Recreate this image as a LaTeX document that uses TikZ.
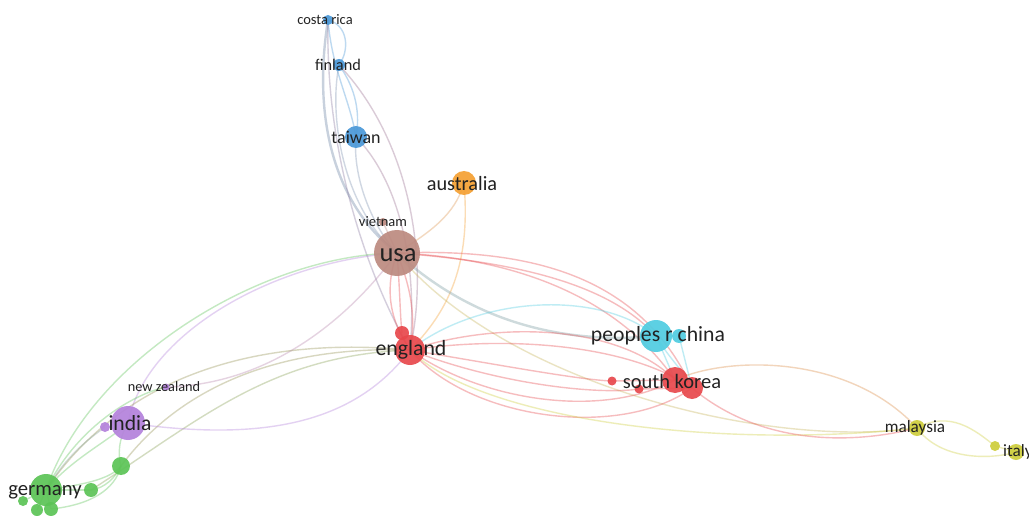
\documentclass[tikz,border=0pt]{standalone}
\usepackage{fontspec}
\setmainfont{Carlito}
\pgfdeclarelayer{bg}
\pgfsetlayers{bg,main}
\definecolor{cBlue}{RGB}{74,152,216}
\definecolor{cBrown}{RGB}{188,138,128}
\definecolor{cRed}{RGB}{232,72,76}
\definecolor{cCyan}{RGB}{80,205,225}
\definecolor{cOrange}{RGB}{245,160,50}
\definecolor{cPurple}{RGB}{180,130,220}
\definecolor{cGreen}{RGB}{92,196,86}
\definecolor{cYellow}{RGB}{206,206,60}
\definecolor{cLabel}{RGB}{34,34,34}
\tikzset{
  bub/.style 2 args={circle, inner sep=0pt, minimum size=#2, fill=#1, fill opacity=0.92, draw=none},
  lab/.style={font=\fontsize{#1}{#1}\selectfont, text=cLabel, inner sep=0pt},
  ed/.style={draw=#1, line width=1.4pt, draw opacity=0.36},
  edt/.style={draw=#1, line width=2.4pt, draw opacity=0.42}
}
\begin{document}
\begin{tikzpicture}[x=1pt,y=-1pt]
\useasboundingbox (0,0) rectangle (1029,516);
% nodes
\node[bub={cBlue}{10pt}] (cr) at (328,20) {};
\node[bub={cBlue}{12pt}] (fi) at (339,65) {};
\node[bub={cBlue}{22pt}] (tw) at (356,137) {};
\node[bub={cOrange}{24pt}] (au) at (464,183) {};
\node[bub={cBrown}{8pt}] (vt) at (383,222) {};
\node[bub={cBrown}{46pt}] (us) at (397,253) {};
\node[bub={cRed}{30pt}] (en) at (410,350) {};
\node[bub={cRed}{14pt}] (en2) at (402,333) {};
\node[bub={cCyan}{32pt}] (cn) at (656,336) {};
\node[bub={cCyan}{14pt}] (cn2) at (679,336) {};
\node[bub={cRed}{26pt}] (sk) at (675,380) {};
\node[bub={cRed}{22pt}] (sk2) at (692,388) {};
\node[bub={cRed}{9pt}] (r3) at (612,381) {};
\node[bub={cRed}{9pt}] (r4) at (639,389) {};
\node[bub={cYellow}{16pt}] (my) at (917,428) {};
\node[bub={cYellow}{16pt}] (it) at (1016,452) {};
\node[bub={cYellow}{10pt}] (y2) at (995,446) {};
\node[bub={cPurple}{34pt}] (in) at (128,423) {};
\node[bub={cPurple}{10pt}] (in2) at (105,427) {};
\node[bub={cPurple}{7pt}] (nz) at (166,387) {};
\node[bub={cGreen}{32pt}] (de) at (46,490) {};
\node[bub={cGreen}{10pt}] (g1) at (23,501) {};
\node[bub={cGreen}{12pt}] (g2) at (37,510) {};
\node[bub={cGreen}{14pt}] (g3) at (51,509) {};
\node[bub={cGreen}{18pt}] (g4) at (121,466) {};
\node[bub={cGreen}{14pt}] (g5) at (91,490) {};
% edges
\begin{pgfonlayer}{bg}
\fill[white] (0,0) rectangle (1029,516);
% blue cluster
\draw[edt={cBlue!55!cBrown}] (cr.center) .. controls (312,120) and (335,205) .. (us.center);
\draw[ed={cBlue}] (cr.center) .. controls (348,25) and (350,50) .. (fi.center);
\draw[ed={cBlue}] (cr.center) .. controls (332,70) and (350,100) .. (tw.center);
\draw[ed={cBlue!60!cRed}] (cr.center) .. controls (325,160) and (370,280) .. (en.center);
\draw[ed={cBlue}] (fi.center) .. controls (357,90) and (360,115) .. (tw.center);
\draw[ed={cBlue!55!cBrown}] (fi.center) .. controls (328,120) and (345,210) .. (us.center);
\draw[ed={cBlue!50!cRed}] (fi.center) .. controls (410,140) and (430,260) .. (en.center);
\draw[ed={cBlue!55!cBrown}] (tw.center) .. controls (352,180) and (375,230) .. (us.center);
\draw[ed={cBlue!50!cRed}] (tw.center) .. controls (398,180) and (418,260) .. (en.center);
\draw[ed={cBrown}] (vt.center) -- (us.center);
% orange
\draw[ed={cOrange!60!cBrown}] (us.center) .. controls (430,232) and (455,215) .. (au.center);
\draw[ed={cOrange}] (au.center) .. controls (470,255) and (455,305) .. (en.center);
% usa edges
\draw[ed={cRed}] (us.center) .. controls (384,290) and (390,320) .. (en.center);
\draw[ed={cRed}] (us.center) .. controls (412,290) and (416,320) .. (en.center);
\draw[ed={cRed}] (us.center) .. controls (400,290) and (400,315) .. (en2.center);
\draw[ed={cRed}] (us.center) .. controls (530,248) and (640,275) .. (sk2.center);
\draw[ed={cRed}] (us.center) .. controls (520,258) and (620,300) .. (sk.center);
\draw[ed={cRed}] (us.center) .. controls (520,262) and (610,285) .. (cn.center);
\draw[edt={cCyan!45!cBrown}] (us.center) .. controls (470,320) and (560,345) .. (cn.center);
\draw[ed={cYellow!60!cBrown}] (us.center) .. controls (500,380) and (760,450) .. (my.center);
\draw[ed={cGreen}] (us.center) .. controls (260,255) and (90,360) .. (de.center);
\draw[ed={cPurple}] (us.center) .. controls (270,262) and (145,335) .. (in.center);
\draw[ed={cPurple!50!cBrown}] (us.center) .. controls (340,330) and (260,385) .. (nz.center);
% england edges
\draw[ed={cCyan}] (en.center) .. controls (480,295) and (600,290) .. (cn.center);
\draw[ed={cRed}] (en.center) .. controls (500,320) and (620,325) .. (sk.center);
\draw[ed={cRed}] (en.center) .. controls (510,335) and (630,345) .. (sk2.center);
\draw[ed={cRed}] (en.center) .. controls (500,365) and (580,380) .. (r3.center);
\draw[ed={cRed}] (en.center) .. controls (480,400) and (600,420) .. (sk.center);
\draw[ed={cRed}] (en.center) .. controls (470,420) and (620,440) .. (sk2.center);
\draw[ed={cRed}] (en.center) .. controls (500,385) and (600,395) .. (r4.center);
\draw[ed={cYellow}] (en.center) .. controls (480,420) and (720,450) .. (my.center);
\draw[ed={cGreen!60!cRed}] (en.center) .. controls (250,335) and (120,380) .. (de.center);
\draw[ed={cGreen!60!cRed}] (en.center) .. controls (260,345) and (170,400) .. (g4.center);
\draw[ed={cGreen!70!cRed}] (en.center) .. controls (270,355) and (200,420) .. (g5.center);
\draw[ed={cPurple}] (en.center) .. controls (350,430) and (250,440) .. (in.center);
% china / korea
\draw[ed={cCyan}] (cn.center) -- (sk.center);
\draw[ed={cCyan}] (cn.center) .. controls (670,360) and (685,372) .. (sk2.center);
\draw[ed={cCyan}] (cn2.center) -- (sk2.center);
\draw[ed={cRed}] (r3.center) -- (sk.center);
\draw[ed={cRed}] (r4.center) -- (sk2.center);
\draw[ed={cRed!50!cYellow}] (sk.center) .. controls (730,355) and (850,355) .. (my.center);
\draw[ed={cRed}] (sk2.center) .. controls (760,445) and (850,445) .. (my.center);
% malaysia
\draw[ed={cYellow}] (my.center) .. controls (950,410) and (975,430) .. (y2.center);
\draw[ed={cYellow}] (my.center) .. controls (940,460) and (990,460) .. (it.center);
\draw[ed={cYellow}] (y2.center) -- (it.center);
% germany / india
\draw[ed={cGreen}] (de.center) .. controls (70,460) and (110,440) .. (in.center);
\draw[ed={cPurple!50!cGreen}] (de.center) .. controls (70,450) and (95,435) .. (in2.center);
\draw[ed={cGreen}] (de.center) .. controls (75,430) and (130,395) .. (nz.center);
\draw[ed={cGreen}] (de.center) .. controls (80,485) and (110,480) .. (g4.center);
\draw[ed={cGreen}] (de.center) -- (g5.center);
\draw[ed={cGreen}] (g5.center) .. controls (105,488) and (115,478) .. (g4.center);
\draw[ed={cGreen}] (g3.center) .. controls (90,505) and (115,490) .. (g4.center);
\draw[ed={cGreen}] (in.center) .. controls (118,440) and (118,455) .. (g4.center);
\draw[ed={cGreen}] (de.center) -- (g1.center);
\draw[ed={cGreen}] (de.center) -- (g2.center);
\draw[ed={cGreen}] (de.center) -- (g3.center);
\end{pgfonlayer}
% labels
\node[lab=14.5] (lcr) at (325,20) {costa rica};
\node[lab=16.3] (lfi) at (338,65) {finland};
\node[lab=18] (ltw) at (356,137) {taiwan};
\node[lab=20.3] (lau) at (462,184) {australia};
\node[lab=14.5] (lvt) at (383,222) {vietnam};
\node[lab=26.5] (lus) at (398,255) {usa};
\node[lab=21.8] (len) at (411,350) {england};
\node[lab=21.7] (lcn) at (658,336) {peoples r china};
\node[lab=20.5] (lsk) at (672,381) {south korea};
\node[lab=17.2] (lmy) at (915,428) {malaysia};
\node[lab=17.2, anchor=west] (lit) at (1003,452) {italy};
\node[lab=21.6] (lin) at (130,423) {india};
\node[lab=14.3] (lnz) at (164,387) {new zealand};
\node[lab=20.7] (lde) at (45,492) {germany};
\end{tikzpicture}
\end{document}
